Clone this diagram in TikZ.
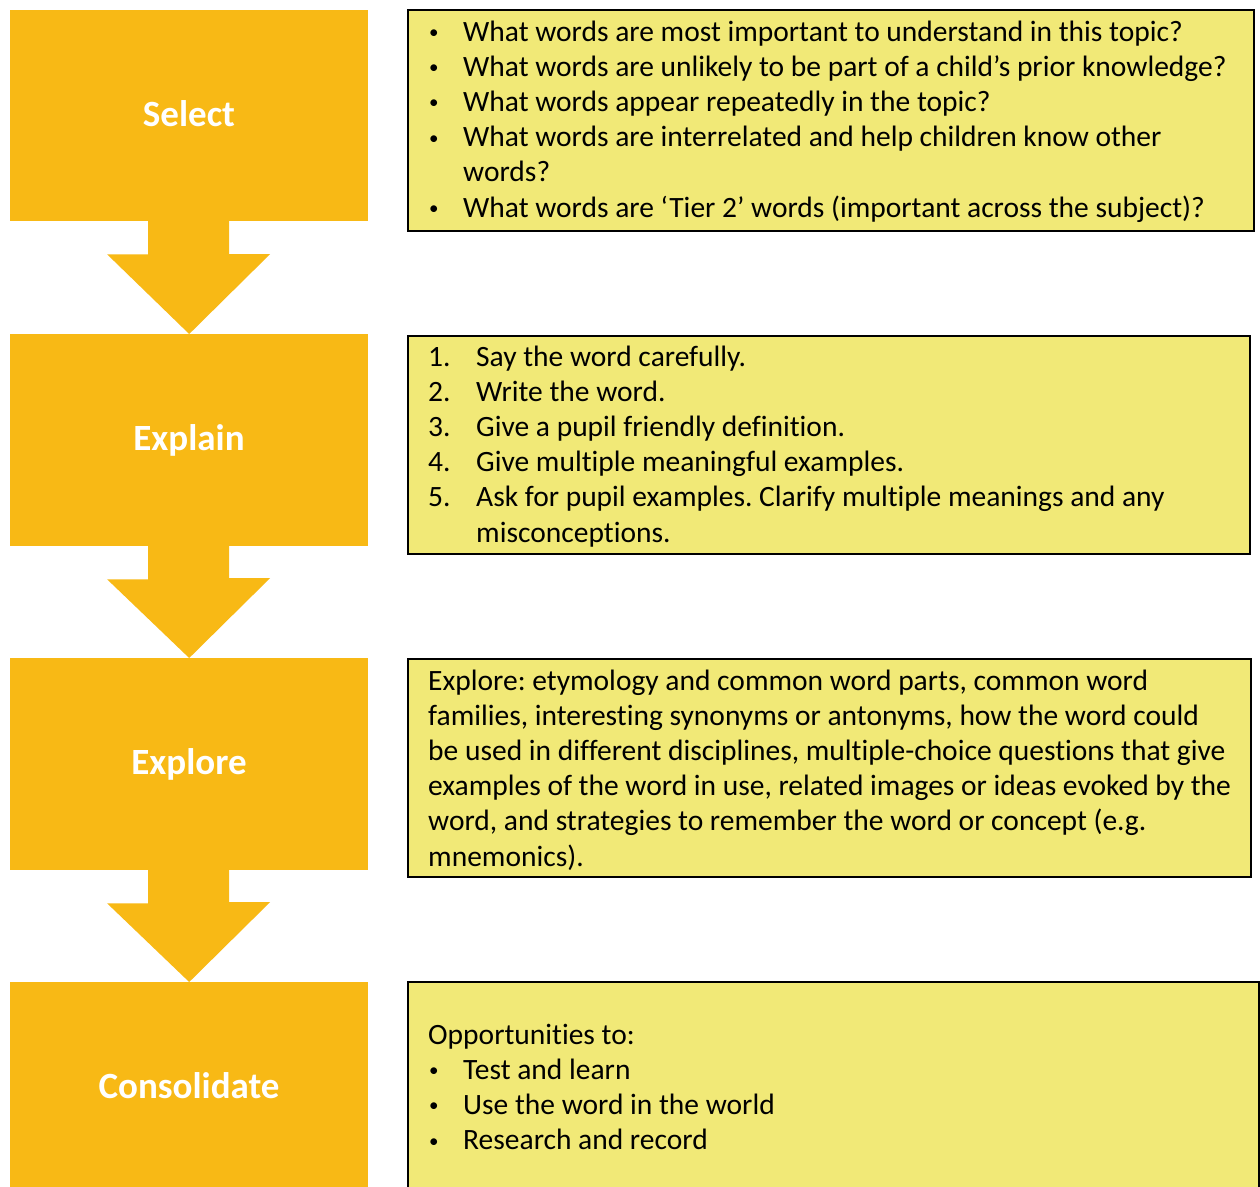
\documentclass[tikz,border=0pt]{standalone}
\usepackage{fontspec}
\setmainfont[Ligatures=NoCommon]{Carlito}
\definecolor{orangec}{HTML}{F8B915}
\definecolor{yellowc}{HTML}{F1E977}
\newcommand\bl[1]{\makebox[35pt][l]{\hspace*{1pt}\raisebox{2.5pt}{\fontsize{19}{19}\selectfont\textbullet}}#1}
\newcommand\nm[2]{\makebox[48pt][l]{#1}#2}
\tikzset{
  stage/.style={fill=orangec, draw=none, anchor=north west, inner sep=0pt, minimum width=358pt},
  stagelabel/.style={anchor=base, inner sep=0pt, text=white, font=\bfseries\fontsize{37}{44}\selectfont},
  note/.style={fill=yellowc, draw=black, line width=2pt, anchor=north west, inner sep=0pt},
  notetext/.style={anchor=base west, inner sep=0pt, text=black, font=\frenchspacing\fontsize{29.5}{35.2}\selectfont},
  flow/.style={fill=orangec, draw=none}
}
\begin{document}
\begin{tikzpicture}[x=1pt,y=-1pt]
\path[use as bounding box, clip] (0,0) rectangle (1260,1186);
\fill[white] (0,0) rectangle (1260,1186);
% stages
\node[stage, minimum height=211pt] (s1) at (10,10) {};
\node[stage, minimum height=212pt] (s2) at (10,334) {};
\node[stage, minimum height=212pt] (s3) at (10,658) {};
\node[stage, minimum height=230pt] (s4) at (10,982) {};
\node[stagelabel] (l1) at (189,126) {Select};
\node[stagelabel] (l2) at (189,450) {Explain};
\node[stagelabel] (l3) at (189,774) {Explore};
\node[stagelabel] (l4) at (189,1098) {Consolidate};
% arrows
\foreach \a/\b in {s1/s2, s2/s3, s3/s4}{
  \fill[flow] ([xshift=-41pt, yshift=1pt]\a.south) -- ++(0,34) -- ++(-41,0) -- (\b.north)
    -- ([xshift=81pt, yshift=80pt]\b.north) -- ++(-41,0) -- ([xshift=40pt, yshift=1pt]\a.south) -- cycle;
}
% notes
\node[note, minimum width=846pt, minimum height=221pt] (n1) at (407,9) {};
\node[note, minimum width=842pt, minimum height=218pt] (n2) at (407,335) {};
\node[note, minimum width=843pt, minimum height=218pt] (n3) at (407,658) {};
\node[note, minimum width=851pt, minimum height=240pt] (n4) at (407,981) {};
\node[notetext] (t1) at (428,41) {\parbox[t]{830pt}{%
\bl{What words are most important to understand in this topic?}\\
\bl{What words are unlikely to be part of a child’s prior knowledge?}\\
\bl{What words appear repeatedly in the topic?}\\
\bl{What words are interrelated and help children know other}\\
\hspace*{35pt}words?\\
\bl{What words are ‘Tier 2’ words (important across the subject)?}}};
\node[notetext] (t2) at (428,366) {\parbox[t]{820pt}{%
\nm{1.}{Say the word carefully.}\\
\nm{2.}{Write the word.}\\
\nm{3.}{Give a pupil friendly definition.}\\
\nm{4.}{Give multiple meaningful examples.}\\
\nm{5.}{Ask for pupil examples. Clarify multiple meanings and any}\\
\hspace*{48pt}misconceptions.}};
\node[notetext] (t3) at (428,690) {\parbox[t]{820pt}{%
Explore: etymology and common word parts, common word\\
families, interesting synonyms or antonyms, how the word could\\
be used in different disciplines, multiple-choice questions that give\\
examples of the word in use, related images or ideas evoked by the\\
word, and strategies to remember the word or concept (e.g.\\
mnemonics).}};
\node[notetext] (t4) at (428,1044) {\parbox[t]{820pt}{%
Opportunities to:\\
\bl{Test and learn}\\
\bl{Use the word in the world}\\
\bl{Research and record}}};
\end{tikzpicture}
\end{document}
